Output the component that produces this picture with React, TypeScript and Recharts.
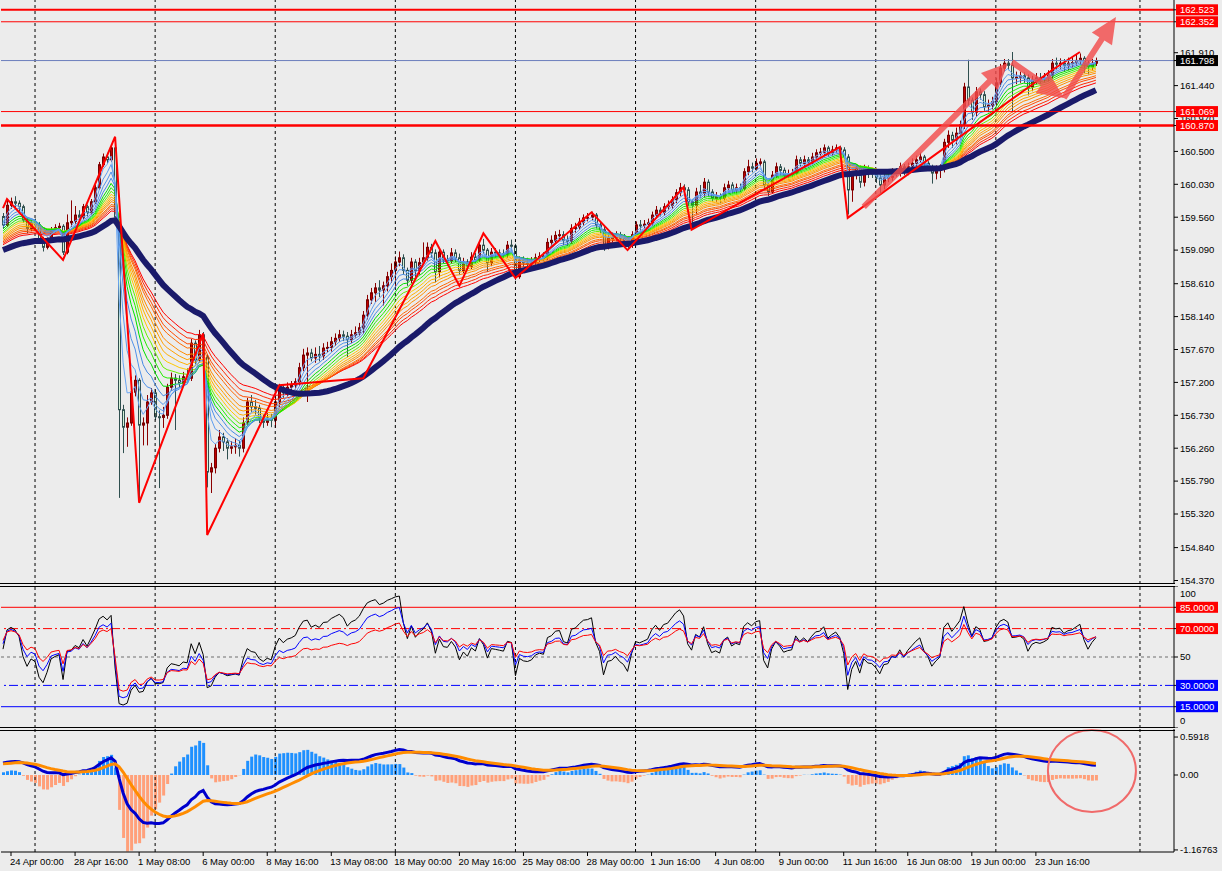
import { ComposedChart, Bar, Line, XAxis, YAxis, ReferenceLine, ReferenceDot, Cell } from "recharts";

const FONT = "Tahoma, 'Liberation Sans', Arial, sans-serif";

// H4 bars, open of each bar = previous close
const firstOpen = 159.57;
const closes = [
  159.45, 159.73, 159.78, 159.76, 159.71, 159.52, 159.40, 159.48, 159.45, 159.23,
  159.13, 159.23, 159.38, 159.41, 159.43, 159.06, 159.48, 159.50, 159.59, 159.56,
  159.71, 159.63, 159.78, 159.98, 160.31, 160.42, 160.38, 160.55, 159.56, 156.81,
  156.56, 156.62, 157.06, 157.23, 156.59, 156.62, 156.92, 157.05, 156.71, 156.70,
  156.73, 157.13, 157.26, 157.23, 157.19, 157.28, 157.26, 157.76, 157.52, 157.88,
  157.56, 155.92, 155.98, 156.26, 156.42, 156.35, 156.26, 156.28, 156.30, 156.26,
  156.62, 156.92, 156.85, 156.83, 156.69, 156.63, 156.69, 156.66, 156.92, 157.12,
  157.05, 157.13, 157.16, 157.21, 157.41, 157.59, 157.62, 157.55, 157.60, 157.58,
  157.69, 157.70, 157.78, 157.83, 157.88, 157.86, 157.81, 157.88, 157.91, 157.98,
  158.16, 158.38, 158.48, 158.55, 158.52, 158.58, 158.71, 158.80, 158.92, 158.98,
  158.80, 158.66, 158.92, 158.80, 158.91, 158.98, 159.13, 159.05, 158.78, 159.06,
  158.95, 158.94, 159.05, 158.98, 158.80, 158.92, 158.86, 158.99, 158.95, 159.16,
  159.09, 158.91, 159.06, 159.05, 159.04, 159.03, 159.16, 159.15, 158.71, 158.95,
  158.91, 158.90, 158.92, 158.98, 159.00, 158.99, 159.20, 159.23, 159.30, 159.31,
  159.23, 159.22, 159.40, 159.42, 159.49, 159.55, 159.56, 159.59, 159.45, 159.38,
  159.13, 159.26, 159.27, 159.31, 159.26, 159.23, 159.16, 159.31, 159.45, 159.44,
  159.46, 159.48, 159.59, 159.66, 159.63, 159.71, 159.73, 159.81, 159.91, 159.98,
  159.95, 159.78, 159.73, 159.92, 159.90, 160.06, 159.92, 159.83, 159.85, 159.83,
  159.98, 160.02, 159.95, 159.98, 159.97, 160.21, 160.28, 160.26, 160.33, 160.35,
  160.02, 159.92, 160.16, 160.28, 160.23, 160.16, 160.18, 160.19, 160.38, 160.33,
  160.38, 160.35, 160.42, 160.48, 160.49, 160.55, 160.48, 160.52, 160.55, 160.52,
  160.42, 159.95, 160.16, 160.26, 160.06, 160.26, 160.19, 160.18, 160.12, 160.02,
  160.12, 160.13, 160.21, 160.20, 160.28, 160.21, 160.28, 160.33, 160.38, 160.42,
  160.33, 160.28, 160.19, 160.23, 160.26, 160.63, 160.73, 160.66, 160.76, 160.88,
  161.42, 161.23, 161.06, 161.35, 161.31, 161.14, 161.16, 161.21, 161.48, 161.69,
  161.76, 161.73, 161.55, 161.56, 161.58, 161.55, 161.42, 161.52, 161.55, 161.54,
  161.56, 161.59, 161.76, 161.75, 161.76, 161.73, 161.76, 161.77, 161.80, 161.83,
  161.76, 161.71, 161.76, 161.798,
];
const highs = [
  159.62, 159.80, 159.84, 159.86, 159.80, 159.74, 159.56, 159.53, 159.54, 159.49,
  159.28, 159.27, 159.42, 159.46, 159.48, 159.46, 159.60, 159.80, 159.72, 159.66,
  159.75, 159.74, 159.82, 160.02, 160.35, 160.47, 160.48, 160.60, 160.69, 159.62,
  156.88, 156.70, 157.28, 157.30, 157.26, 156.70, 157.02, 157.12, 157.10, 156.80,
  156.85, 157.18, 157.34, 157.32, 157.30, 157.35, 157.40, 157.82, 157.80, 157.95,
  157.92, 157.60, 156.05, 156.32, 156.52, 156.48, 156.40, 156.36, 156.40, 156.36,
  156.70, 156.98, 157.02, 156.95, 156.88, 156.74, 156.76, 156.75, 157.00, 157.18,
  157.16, 157.20, 157.22, 157.26, 157.48, 157.68, 157.70, 157.68, 157.70, 157.72,
  157.76, 157.78, 157.85, 157.90, 157.95, 157.94, 157.92, 157.95, 158.00, 158.05,
  158.22, 158.45, 158.55, 158.62, 158.66, 158.64, 158.78, 158.90, 159.00, 159.07,
  159.03, 158.84, 158.98, 158.96, 158.98, 159.20, 159.20, 159.18, 159.10, 159.12,
  159.10, 159.02, 159.12, 159.10, 159.04, 158.98, 158.96, 159.06, 159.05, 159.22,
  159.25, 159.12, 159.12, 159.12, 159.10, 159.10, 159.22, 159.24, 159.18, 159.00,
  159.00, 158.98, 158.99, 159.04, 159.06, 159.06, 159.26, 159.30, 159.36, 159.38,
  159.36, 159.30, 159.46, 159.48, 159.55, 159.60, 159.62, 159.64, 159.62, 159.50,
  159.42, 159.32, 159.34, 159.36, 159.35, 159.32, 159.28, 159.36, 159.50, 159.52,
  159.52, 159.54, 159.64, 159.72, 159.70, 159.76, 159.80, 159.86, 159.96, 160.05,
  160.03, 159.99, 159.82, 159.98, 160.02, 160.12, 160.10, 159.96, 159.92, 159.90,
  160.04, 160.08, 160.06, 160.04, 160.04, 160.26, 160.38, 160.34, 160.40, 160.40,
  160.38, 160.05, 160.22, 160.34, 160.32, 160.27, 160.24, 160.25, 160.44, 160.42,
  160.44, 160.42, 160.48, 160.53, 160.55, 160.60, 160.58, 160.58, 160.60, 160.58,
  160.56, 160.46, 160.22, 160.32, 160.30, 160.31, 160.30, 160.25, 160.22, 160.16,
  160.18, 160.20, 160.26, 160.26, 160.34, 160.32, 160.34, 160.40, 160.44, 160.48,
  160.45, 160.36, 160.31, 160.30, 160.32, 160.68, 160.80, 160.78, 160.84, 160.94,
  161.48, 161.81, 161.27, 161.42, 161.40, 161.36, 161.24, 161.28, 161.55, 161.75,
  161.82, 161.82, 161.92, 161.64, 161.64, 161.63, 161.60, 161.58, 161.62, 161.62,
  161.62, 161.66, 161.82, 161.84, 161.83, 161.82, 161.84, 161.86, 161.88, 161.90,
  161.86, 161.80, 161.82, 161.84,
];
const lows = [
  159.40, 159.42, 159.68, 159.70, 159.64, 159.48, 159.33, 159.36, 159.40, 159.18,
  159.07, 159.10, 159.20, 159.34, 159.37, 159.02, 159.03, 159.42, 159.46, 159.50,
  159.53, 159.57, 159.60, 159.75, 159.95, 160.28, 160.33, 160.35, 159.50, 155.55,
  156.19, 156.28, 156.58, 157.00, 155.48, 156.30, 156.30, 156.88, 156.66, 155.69,
  156.55, 156.68, 157.08, 156.52, 157.12, 157.14, 157.20, 157.22, 157.46, 157.48,
  157.50, 155.70, 155.62, 155.90, 156.20, 156.22, 156.10, 156.18, 156.18, 156.14,
  156.20, 156.58, 156.78, 156.74, 156.62, 156.55, 156.58, 156.56, 156.55, 156.85,
  156.98, 157.00, 157.08, 157.10, 157.15, 157.36, 156.92, 157.50, 157.48, 157.50,
  157.52, 157.63, 157.64, 157.72, 157.78, 157.79, 157.56, 157.76, 157.84, 157.86,
  157.90, 158.10, 158.32, 158.35, 158.42, 158.30, 158.50, 158.62, 158.55, 158.86,
  158.74, 158.58, 158.62, 158.70, 158.74, 158.88, 158.94, 158.98, 158.63, 158.70,
  158.90, 158.86, 158.90, 158.92, 158.74, 158.76, 158.80, 158.82, 158.90, 158.92,
  159.04, 158.78, 158.86, 158.98, 158.98, 158.97, 158.98, 159.08, 158.66, 158.68,
  158.85, 158.84, 158.85, 158.88, 158.92, 158.93, 158.95, 159.15, 159.18, 159.24,
  159.16, 159.15, 159.18, 159.34, 159.38, 159.44, 159.50, 159.52, 159.40, 159.33,
  159.08, 159.10, 159.20, 159.22, 159.20, 159.18, 159.10, 159.12, 159.28, 159.38,
  159.40, 159.42, 159.44, 159.55, 159.57, 159.58, 159.66, 159.68, 159.76, 159.86,
  159.88, 159.72, 159.38, 159.60, 159.84, 159.85, 159.86, 159.78, 159.78, 159.76,
  159.80, 159.94, 159.90, 159.90, 159.92, 159.94, 160.16, 160.20, 160.22, 160.28,
  159.96, 159.86, 159.90, 160.12, 160.16, 160.10, 160.12, 160.13, 160.16, 160.28,
  160.28, 160.30, 160.32, 160.38, 160.43, 160.45, 160.43, 160.44, 160.48, 160.46,
  160.36, 159.60, 159.78, 160.10, 159.98, 160.00, 160.12, 160.12, 160.05, 159.90,
  159.96, 160.06, 160.08, 160.14, 160.14, 160.16, 160.16, 160.22, 160.28, 160.34,
  160.28, 160.22, 160.04, 160.10, 160.12, 160.20, 160.55, 160.55, 160.60, 160.70,
  160.82, 161.16, 160.95, 161.00, 161.24, 161.08, 161.06, 161.10, 161.15, 161.42,
  161.64, 161.66, 161.06, 161.46, 161.48, 161.48, 161.30, 161.36, 161.46, 161.46,
  161.48, 161.50, 161.54, 161.66, 161.68, 161.64, 161.66, 161.70, 161.72, 161.74,
  161.62, 161.60, 161.66, 161.72,
];
// empty bars on the right (chart shift)
const totalSlots = 293;

const tickBars = [2, 18, 34, 50, 66, 82, 98, 114, 130, 146, 162, 178, 194, 210, 226, 242, 258];
const tickLabels = [
  "24 Apr 00:00", "28 Apr 16:00", "1 May 08:00", "6 May 00:00", "8 May 16:00", "13 May 08:00",
  "18 May 00:00", "20 May 16:00", "25 May 08:00", "28 May 00:00", "1 Jun 16:00", "4 Jun 08:00",
  "9 Jun 00:00", "11 Jun 16:00", "16 Jun 08:00", "19 Jun 00:00", "23 Jun 16:00",
];
const gridBars = [8, 38, 68, 98, 128, 158, 188, 218, 248, 284];

// rainbow ribbon (fast -> slow) and the thick base MA
const ribbonPeriods = [3, 5, 7, 9, 11, 13, 15, 17, 19, 21, 23, 26, 28, 31, 34];
const ribbonSeeds = [159.52, 159.48, 159.44, 159.41, 159.38, 159.35, 159.32, 159.3, 159.27, 159.25, 159.23, 159.21, 159.19, 159.17, 159.15];
const ribbonColors = [
  "#6aa6f4", "#5c9cef", "#4f92ea", "#4488e4",
  "#00e000", "#22ee00", "#66f000",
  "#ffc800", "#ffb000", "#ffa000", "#ff8c00",
  "#ff6a00", "#ff4a00", "#ff2a00", "#ff0000",
];
const navyPeriod = 60;
const navySeed = 159.08;

const zigzagBars = [0, 1, 15, 28, 34, 50, 51, 69, 90, 108, 114, 120, 128, 147, 156, 170, 172, 209, 211, 262, 269];
const zigzagPrices = [159.69, 159.82, 158.95, 160.71, 155.48, 157.9, 155.02, 157.16, 157.26, 159.22, 158.58, 159.33, 158.69, 159.63, 159.09, 159.99, 159.38, 160.56, 159.55, 161.66, 161.92];

const arrowFrom = [[215, 159.706], [252, 161.777], [265, 161.263]];
const arrowTo = [[251, 161.763], [265, 161.263], [278, 162.42]];

const levelPrices = [162.523, 162.352, 161.069, 160.87];
const levelWidths = [2, 1, 1, 2.5];
const lastPrice = 161.798;
const priceTicks = [161.91, 161.44, 160.97, 160.5, 160.03, 159.56, 159.09, 158.61, 158.14, 157.67, 157.2, 156.73, 156.26, 155.79, 155.32, 154.84, 154.37];

// RSI panel
const rsiPeriods = [9, 14, 21];
const rsiColors = ["#000000", "#0000ff", "#ff0000"];
const rsiSeedGain = 0.05;
const rsiSeedLoss = 0.025;
const rsiLevels = [85, 70, 50, 30, 15];
const rsiLevelColors = ["#ff0000", "#ff0000", "#6e6e6e", "#0000ff", "#0000ff"];
const rsiLevelDash = [undefined, "9 3 2 3", "3 3", "9 3 2 3", undefined];

// MACD panel
const macdFast = 12;
const macdSlow = 26;
const macdSignalPeriod = 9;
const macdSeeds = [159.42, 159.22, 0.17];
const histScale = 3;
const macdTicks = [0.5918, 0, -1.16763];
const macdTickLabels = ["0.5918", "0.00", "-1.16763"];

function ema(src: number[], period: number, seed: number) {
  const k = 2 / (period + 1);
  let prev = seed;
  return src.map((v) => (prev = prev + k * (v - prev)));
}

// linear weighted MA; bars before the first one are taken at the seed level
function lwma(src: number[], period: number, seed: number) {
  const den = (period * (period + 1)) / 2;
  return src.map((_, i) => {
    let sum = 0;
    for (let w = 1; w <= period; w++) {
      const j = i - period + w;
      sum += w * (j < 0 ? seed : src[j]);
    }
    return sum / den;
  });
}

function rsi(src: number[], period: number, start: number) {
  let ag = rsiSeedGain;
  let al = rsiSeedLoss;
  let prev = start;
  return src.map((v) => {
    const ch = v - prev;
    prev = v;
    ag = (ag * (period - 1) + Math.max(ch, 0)) / period;
    al = (al * (period - 1) + Math.max(-ch, 0)) / period;
    return al === 0 ? 100 : 100 - 100 / (1 + ag / al);
  });
}

const ribbon = ribbonPeriods.map((p, k) => ema(closes, p, ribbonSeeds[k]));
const navy = lwma(closes, navyPeriod, navySeed);
const rsis = rsiPeriods.map((p) => rsi(closes, p, firstOpen));
const fast = ema(closes, macdFast, macdSeeds[0]);
const slow = ema(closes, macdSlow, macdSeeds[1]);
const macd = fast.map((v, i) => v - slow[i]);
const signal = ema(macd, macdSignalPeriod, macdSeeds[2]);

const rows: any[] = Array.from({ length: totalSlots }, (_, i) => {
  if (i >= closes.length) return { i };
  const row: any = {
    i,
    o: i === 0 ? firstOpen : closes[i - 1],
    c: closes[i],
    h: highs[i],
    l: lows[i],
    hl: [lows[i], highs[i]],
    navy: navy[i],
    macd: macd[i],
    signal: signal[i],
    hist: histScale * (macd[i] - signal[i]),
  };
  ribbon.forEach((arr, k) => (row[`r${k}`] = arr[i]));
  rsis.forEach((arr, k) => (row[`rsi${k}`] = arr[i]));
  return row;
});
zigzagBars.forEach((b, k) => (rows[b].zz = zigzagPrices[k]));

const Candle = (props: any) => {
  const { x, y, width, height, payload } = props;
  if (!payload || payload.h == null) return null;
  const { o, c, h, l } = payload;
  const span = h - l || 1e-6;
  const py = (v: number) => y + ((h - v) / span) * height;
  const cx = Math.floor(x + width / 2) + 0.5;
  const up = c >= o;
  const top = py(Math.max(o, c));
  const bot = py(Math.min(o, c));
  return (
    <g>
      <line x1={cx} x2={cx} y1={y} y2={y + height} stroke={up ? "#8b0000" : "#2f4f4f"} strokeWidth={1} />
      <rect x={cx - 1} y={top} width={2} height={Math.max(bot - top, 1)} fill={up ? "#c00000" : "#d8f2d8"} stroke={up ? "#7a0000" : "#2f4f4f"} strokeWidth={1} />
    </g>
  );
};

const ArrowShape = (props: any) => {
  const { x1, y1, x2, y2 } = props;
  const dx = x2 - x1;
  const dy = y2 - y1;
  const len = Math.hypot(dx, dy) || 1;
  const ux = dx / len;
  const uy = dy / len;
  const head = 26;
  const half = 12;
  const shaft = 3;
  const bx = x2 - ux * head;
  const by = y2 - uy * head;
  const px = -uy;
  const py = ux;
  const pts = [
    [x1 + px * shaft, y1 + py * shaft],
    [bx + px * shaft, by + py * shaft],
    [bx + px * half, by + py * half],
    [x2, y2],
    [bx - px * half, by - py * half],
    [bx - px * shaft, by - py * shaft],
    [x1 - px * shaft, y1 - py * shaft],
  ];
  return <polygon points={pts.map((p) => p.join(",")).join(" ")} fill="#f24c4c" fillOpacity={0.82} />;
};

const boxFill = (v: number) => (v === lastPrice ? "#000000" : "#ff0000");

const PriceTick = (props: any) => {
  const { x, y, payload } = props;
  const v = payload.value;
  const isBox = v === lastPrice || levelPrices.includes(v);
  if (isBox) {
    return (
      <g>
        <rect x={x - 4} y={y - 5.5} width={42} height={11} fill={boxFill(v)} />
        <text x={x} y={y} dy="0.35em" fontSize={9.5} fill="#ffffff" fontFamily={FONT}>{v.toFixed(3)}</text>
      </g>
    );
  }
  return <text x={x} y={y} dy="0.35em" fontSize={9.5} fill="#000" fontFamily={FONT}>{v.toFixed(3)}</text>;
};

const RsiTick = (props: any) => {
  const { x, y, payload } = props;
  const v = payload.value;
  const k = rsiLevels.indexOf(v);
  if (k >= 0 && v !== 50) {
    return (
      <g>
        <rect x={x - 4} y={y - 5.5} width={42} height={11} fill={rsiLevelColors[k]} />
        <text x={x} y={y} dy="0.35em" fontSize={9.5} fill="#ffffff" fontFamily={FONT}>{v.toFixed(4)}</text>
      </g>
    );
  }
  const yy = v === 100 ? y + 8 : v === 0 ? y - 7 : y;
  return <text x={x} y={yy} dy="0.35em" fontSize={9.5} fill="#000" fontFamily={FONT}>{v}</text>;
};

const MacdTick = (props: any) => {
  const { x, y, payload } = props;
  const k = macdTicks.indexOf(payload.value);
  return <text x={x} y={y} dy="0.35em" fontSize={9.5} fill="#000" fontFamily={FONT}>{macdTickLabels[k]}</text>;
};

const TimeTick = (props: any) => {
  const { x, y, payload } = props;
  const k = tickBars.indexOf(payload.value);
  return <text x={x - 1} y={y} dy="0.72em" fontSize={9.5} fill="#000" fontFamily={FONT}>{tickLabels[k]}</text>;
};

const Ellipse = (props: any) => <ellipse cx={props.cx} cy={props.cy} rx={44} ry={41} fill="none" stroke="#f06a6a" strokeWidth={2} />;

const margin = { top: 0, right: 0, bottom: 0, left: 1 };

const grid = (key: string) =>
  gridBars.map((b) => <ReferenceLine key={key + b} x={b} stroke="#000" strokeDasharray="3 3" />);

const hline = (top: number) => (
  <div style={{ position: "absolute", left: 0, top, width: 1175, height: 1, background: "#000" }} />
);

export default function App() {
  return (
    <div style={{ position: "relative", width: 1222, height: 871, background: "#ececec", overflow: "hidden", fontFamily: FONT }}>
      <style>{"body{margin:0;background:#ececec}"}</style>

      {/* price panel */}
      <div style={{ position: "absolute", left: 0, top: 0 }}>
        <ComposedChart width={1222} height={590} data={rows} margin={{ ...margin, bottom: 6 }}>
          <XAxis dataKey="i" type="category" scale="band" hide />
          <YAxis
            orientation="right"
            width={48}
            domain={[154.32, 162.663]}
            allowDataOverflow
            ticks={[...priceTicks, ...levelPrices, lastPrice]}
            interval={0}
            tick={<PriceTick />}
            tickSize={4}
            tickMargin={2}
            stroke="#000"
          />
          {grid("p")}
          {ribbon
            .map((_, k) => k)
            .reverse()
            .map((k) => (
              <Line key={k} dataKey={`r${k}`} stroke={ribbonColors[k]} strokeWidth={1} dot={false} isAnimationActive={false} />
            ))}
          <Line dataKey="navy" stroke="#1a1a6a" strokeWidth={6} dot={false} isAnimationActive={false} />
          <Bar dataKey="hl" barSize={3} shape={(p: any) => <Candle {...p} />} isAnimationActive={false} />
          <Line dataKey="zz" stroke="#ff0000" strokeWidth={2} dot={false} connectNulls isAnimationActive={false} />
          {levelPrices.map((v, k) => (
            <ReferenceLine key={v} y={v} stroke="#ff0000" strokeWidth={levelWidths[k]} />
          ))}
          <ReferenceLine y={lastPrice} stroke="#6d7fbd" strokeWidth={1} />
          {arrowFrom.map((a, k) => (
            <ReferenceLine
              key={"a" + k}
              segment={[{ x: a[0], y: a[1] }, { x: arrowTo[k][0], y: arrowTo[k][1] }]}
              shape={(p: any) => <ArrowShape {...p} />}
            />
          ))}
        </ComposedChart>
      </div>

      {/* RSI panel */}
      <div style={{ position: "absolute", left: 0, top: 586 }}>
        <ComposedChart width={1222} height={142} data={rows} margin={margin}>
          <XAxis dataKey="i" type="category" scale="band" hide />
          <YAxis
            orientation="right"
            width={48}
            domain={[0, 100]}
            allowDataOverflow
            ticks={[100, 50, 0, 85, 70, 30, 15]}
            interval={0}
            tick={<RsiTick />}
            tickSize={4}
            tickMargin={2}
            stroke="#000"
          />
          {grid("r")}
          {rsiLevels.map((v, k) => (
            <ReferenceLine key={v} y={v} stroke={rsiLevelColors[k]} strokeDasharray={rsiLevelDash[k]} strokeWidth={1} />
          ))}
          {rsiColors.map((col, k) => (
            <Line key={k} dataKey={`rsi${k}`} stroke={col} strokeWidth={1} dot={false} isAnimationActive={false} />
          ))}
        </ComposedChart>
      </div>

      {/* MACD panel */}
      <div style={{ position: "absolute", left: 0, top: 729 }}>
        <ComposedChart width={1222} height={142} data={rows} margin={margin}>
          <XAxis
            dataKey="i"
            type="category"
            scale="band"
            ticks={tickBars}
            interval={0}
            tick={<TimeTick />}
            tickSize={4}
            tickMargin={2}
            height={19}
            stroke="#000"
          />
          <YAxis
            orientation="right"
            width={48}
            domain={[-1.2, 0.717]}
            allowDataOverflow
            ticks={macdTicks}
            interval={0}
            tick={<MacdTick />}
            tickSize={4}
            tickMargin={2}
            stroke="#000"
          />
          {grid("m")}
          <Bar dataKey="hist" barSize={3} isAnimationActive={false}>
            {rows.map((r, k) => (
              <Cell key={k} fill={r.hist >= 0 ? "#1e90ff" : "#ffa07a"} />
            ))}
          </Bar>
          <Line dataKey="macd" stroke="#0000cd" strokeWidth={3} dot={false} isAnimationActive={false} />
          <Line dataKey="signal" stroke="#ff8c00" strokeWidth={3} dot={false} isAnimationActive={false} />
          <ReferenceDot x={272} y={0.062} r={42} shape={(p: any) => <Ellipse {...p} />} />
        </ComposedChart>
      </div>

      {hline(583)}
      {hline(586)}
      {hline(727)}
      {hline(730)}
    </div>
  );
}
